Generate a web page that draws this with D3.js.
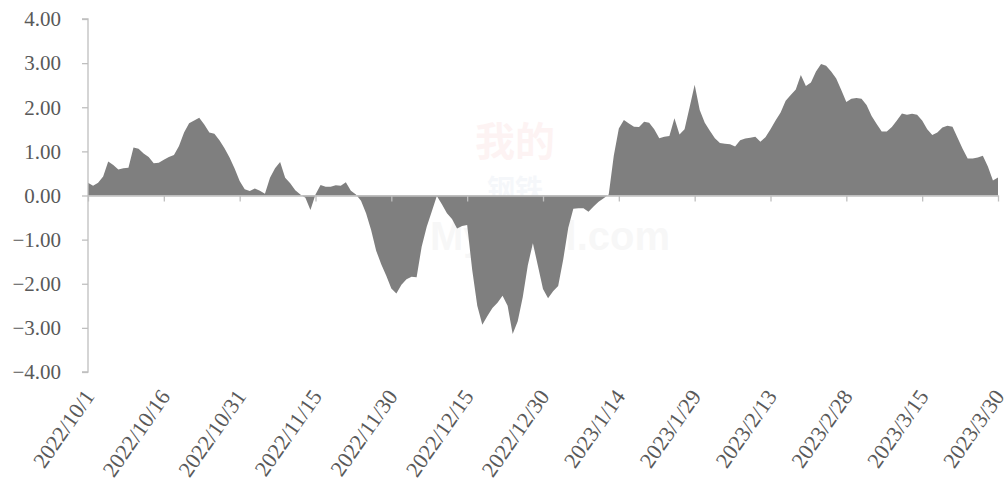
<!DOCTYPE html>
<html><head><meta charset="utf-8">
<script src="https://cdn.jsdelivr.net/npm/d3@7"></script>
<style>html,body{margin:0;padding:0;background:#fff;}svg{display:block;}</style>
</head><body>
<svg id="c" width="1008" height="493"></svg>
<script>
const startDate = "2022-10-01";
const endDate = "2023-03-30";
const values = [
 0.29,0.22,0.29,0.43,0.77,0.69,0.59,0.62,0.63,1.09,
 1.06,0.95,0.87,0.73,0.74,0.81,0.87,0.92,1.12,1.43,
 1.64,1.70,1.76,1.61,1.43,1.40,1.25,1.07,0.86,0.61,
 0.33,0.14,0.10,0.16,0.11,0.04,0.40,0.62,0.76,0.40,
 0.28,0.12,0.02,-0.05,-0.33,0.02,0.24,0.20,0.20,0.23,
 0.22,0.30,0.11,0.02,-0.12,-0.40,-0.78,-1.25,-1.56,-1.82,
 -2.11,-2.22,-2.02,-1.90,-1.84,-1.85,-1.16,-0.71,-0.36,-0.01,
 -0.20,-0.40,-0.53,-0.75,-0.69,-0.67,-1.69,-2.50,-2.93,-2.73,
 -2.55,-2.43,-2.27,-2.50,-3.14,-2.85,-2.30,-1.58,-1.08,-1.60,
 -2.12,-2.33,-2.17,-2.05,-1.45,-0.73,-0.30,-0.29,-0.29,-0.37,
 -0.25,-0.14,-0.06,0.02,0.90,1.52,1.71,1.63,1.56,1.55,
 1.67,1.65,1.50,1.30,1.33,1.35,1.75,1.38,1.50,2.00,
 2.51,1.94,1.65,1.47,1.30,1.19,1.17,1.16,1.11,1.25,
 1.29,1.31,1.33,1.22,1.32,1.50,1.70,1.88,2.15,2.28,
 2.40,2.73,2.48,2.56,2.81,2.98,2.94,2.81,2.65,2.39,
 2.12,2.19,2.21,2.19,2.05,1.80,1.62,1.45,1.45,1.55,
 1.70,1.86,1.83,1.85,1.83,1.70,1.50,1.37,1.43,1.54,
 1.58,1.56,1.31,1.06,0.84,0.84,0.86,0.90,0.66,0.34,
 0.41
];
const yTicks = [4,3,2,1,0,-1,-2,-3,-4];
const xTickLabels = ["2022/10/1","2022/10/16","2022/10/31","2022/11/15","2022/11/30","2022/12/15","2022/12/30","2023/1/14","2023/1/29","2023/2/13","2023/2/28","2023/3/15","2023/3/30"];

const parse = d3.timeParse("%Y-%m-%d");
const parseLbl = d3.timeParse("%Y/%m/%d");
const t0 = parse(startDate);
const data = values.map((v,i)=>({date:d3.timeDay.offset(t0,i), v}));

const svg = d3.select("#c");
const L=88, R=998, T=19, B=372;
const x = d3.scaleTime().domain([t0, parse(endDate)]).range([L,R]);
const y = d3.scaleLinear().domain([-4,4]).range([B,T]);

// watermark
const wm = svg.append("g").attr("opacity",0.045);
wm.append("text").attr("x",515).attr("y",156).attr("text-anchor","middle")
  .attr("font-family","Noto Sans CJK SC").attr("font-size",40).attr("font-weight","bold").attr("fill","#d00").text("我的");
wm.append("text").attr("x",515).attr("y",200).attr("text-anchor","middle")
  .attr("font-family","Noto Sans CJK SC").attr("font-size",28).attr("font-weight","bold").attr("fill","#3060a0").text("钢铁");
wm.append("text").attr("x",550).attr("y",250).attr("text-anchor","middle")
  .attr("font-family","Arial, Liberation Sans").attr("font-size",40).attr("font-weight","bold").attr("fill","#555").text("Mysteel.com");

// area
const area = d3.area().x(d=>x(d.date)).y0(y(0)).y1(d=>y(d.v));
svg.append("path").datum(data).attr("d",area).attr("fill","#7f7f7f");

const axisColor = "#bfbfbf";
const font = "'Liberation Serif','Times New Roman',serif";
const txtColor = "#595959";

// y axis
const yAxis = svg.append("g").attr("transform",`translate(${L},0)`)
  .call(d3.axisLeft(y).tickValues(yTicks).tickSize(6).tickPadding(0).tickFormat(()=>""));
yAxis.selectAll("path,line").attr("stroke",axisColor).attr("stroke-width",1.3);
yAxis.select(".domain").attr("d",`M-6,${T}H0V${B}H-6`);
svg.append("g").selectAll("text").data(yTicks).join("text")
  .attr("x",61).attr("y",d=>y(d)).attr("dy","0.35em").attr("text-anchor","end")
  .attr("font-family",font).attr("font-size",21).attr("fill",txtColor)
  .text(d=>d3.format(".2f")(d));

// x axis at zero
const xTickDates = xTickLabels.map(s=>parseLbl(s));
const xAxis = svg.append("g").attr("transform",`translate(0,${y(0)})`)
  .call(d3.axisBottom(x).tickValues(xTickDates).tickSize(6).tickSizeOuter(0).tickFormat(()=>""));
xAxis.selectAll("path,line").attr("stroke",axisColor).attr("stroke-width",1.3);

// x labels at bottom
svg.append("g").selectAll("text").data(xTickLabels).join("text")
  .attr("transform",s=>`translate(${x(parseLbl(s))+1},${B+20}) rotate(-55)`)
  .attr("text-anchor","end").attr("dy","0.35em")
  .attr("font-family",font).attr("font-size",22).attr("fill",txtColor)
  .text(s=>s);
</script>
</body></html>
